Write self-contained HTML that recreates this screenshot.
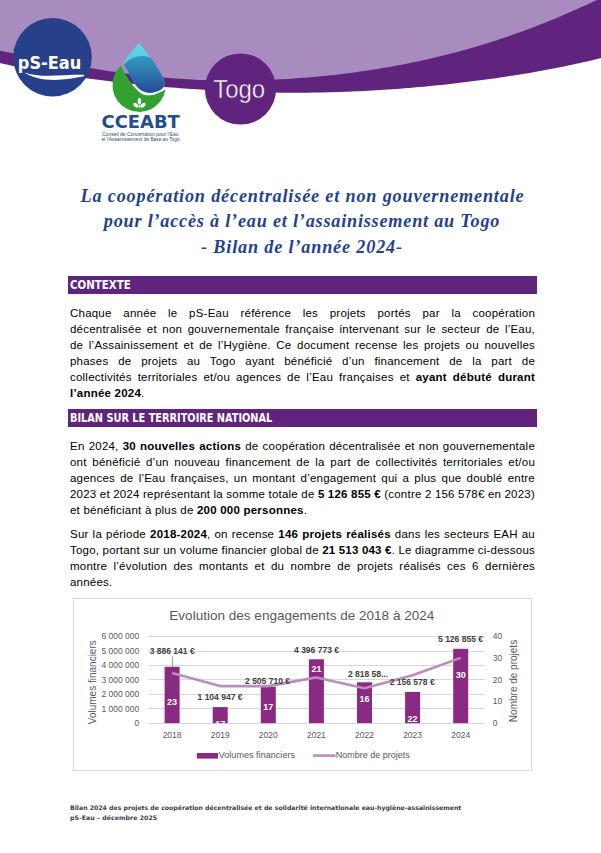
<!DOCTYPE html>
<html lang="fr"><head><meta charset="utf-8"><title>Bilan 2024 Togo</title>
<style>
*{margin:0;padding:0;box-sizing:border-box}
html,body{width:601px;height:853px;overflow:hidden;background:#fff}
body{position:relative;font-family:"Liberation Sans",sans-serif;color:#1a1a1a}
.abs{position:absolute}
svg.bg{position:absolute;left:0;top:0}
.title{position:absolute;left:2.5px;width:601px;text-align:center;font:italic bold 18.2px/25px "Liberation Serif",serif;color:#1f4292;letter-spacing:.79px;white-space:nowrap}
.bar{position:absolute;left:68px;width:469px;height:18px;background:#60247f;color:#fff;font:bold 12px/18px "DejaVu Sans Condensed","DejaVu Sans",sans-serif;padding-left:2px}
.bar span{display:inline-block;transform:scaleX(.905);transform-origin:0 0;white-space:nowrap}
.para{position:absolute;left:70px;width:465px;font-size:11.5px;line-height:16px;letter-spacing:.22px;color:#000}
.para div{text-align:justify;text-align-last:justify;white-space:nowrap}
.para div.l{text-align-last:left}
.foot{position:absolute;left:70px;font-family:"DejaVu Sans",sans-serif;font-size:6.2px;line-height:10px;color:#3c3c4a;letter-spacing:0;font-weight:bold;white-space:nowrap}
</style></head><body>
<svg class="bg" width="601" height="853" viewBox="0 0 601 853">
<defs>
<linearGradient id="dg" x1="0" y1="0" x2="0" y2="1">
<stop offset="0" stop-color="#66d9e3"/><stop offset=".4" stop-color="#55cbdd"/><stop offset="1" stop-color="#3a9cc6"/>
</linearGradient>
<linearGradient id="dg2" x1="0" y1="0" x2="0" y2="1">
<stop offset="0" stop-color="#3199c2"/><stop offset=".45" stop-color="#2b70aa"/><stop offset="1" stop-color="#243088"/>
</linearGradient>
</defs>
<polygon fill="#60247f" points="0,0 0,62.96 4,63.88 8,64.77 12,65.64 16,66.48 20,67.31 24,68.11 28,68.89 32,69.64 36,70.38 40,71.10 44,71.81 48,72.49 52,73.16 56,73.82 60,74.45 64,75.08 68,75.69 72,76.28 76,76.86 80,77.43 84,77.99 88,78.54 92,79.07 96,79.59 100,80.10 104,80.60 108,81.09 112,81.57 116,82.03 120,82.49 124,82.94 128,83.38 132,83.80 136,84.22 140,84.63 144,85.03 148,85.42 152,85.80 156,86.17 160,86.53 164,86.88 168,87.22 172,87.55 176,87.87 180,88.18 184,88.48 188,88.78 192,89.06 196,89.33 200,89.60 204,89.85 208,90.09 212,90.32 216,90.55 220,90.76 224,90.96 228,91.15 232,91.33 236,91.50 240,91.66 244,91.81 248,91.95 252,92.07 256,92.19 260,92.29 264,92.39 268,92.47 272,92.54 276,92.60 280,92.65 284,92.68 288,92.71 292,92.72 296,92.73 300,92.72 304,92.69 308,92.66 312,92.62 316,92.56 320,92.49 324,92.41 328,92.32 332,92.22 336,92.10 340,91.97 344,91.83 348,91.68 352,91.52 356,91.35 360,91.16 364,90.96 368,90.76 372,90.53 376,90.30 380,90.06 384,89.80 388,89.54 392,89.26 396,88.97 400,88.67 404,88.36 408,88.04 412,87.70 416,87.36 420,87.00 424,86.63 428,86.26 432,85.87 436,85.47 440,85.05 444,84.63 448,84.20 452,83.75 456,83.30 460,82.83 464,82.36 468,81.87 472,81.37 476,80.86 480,80.33 484,79.80 488,79.25 492,78.70 496,78.13 500,77.55 504,76.96 508,76.35 512,75.73 516,75.10 520,74.46 524,73.80 528,73.13 532,72.45 536,71.75 540,71.03 544,70.30 548,69.56 552,68.80 556,68.02 560,67.23 564,66.41 568,65.58 572,64.73 576,63.86 580,62.97 584,62.06 588,61.13 592,60.17 596,59.19 600,58.19 604,57.16 601,0"/>
<polygon fill="#a88cbf" points="0,0 0,50.80 4,51.55 8,52.30 12,53.07 16,53.85 20,54.64 24,55.43 28,56.22 32,57.02 36,57.82 40,58.61 44,59.41 48,60.20 52,60.98 56,61.76 60,62.53 64,63.30 68,64.05 72,64.79 76,65.53 80,66.25 84,66.95 88,67.65 92,68.33 96,68.99 100,69.64 104,70.27 108,70.89 112,71.49 116,72.07 120,72.64 124,73.18 128,73.71 132,74.22 136,74.71 140,75.18 144,75.63 148,76.06 152,76.48 156,76.87 160,77.24 164,77.60 168,77.93 172,78.24 176,78.54 180,78.81 184,79.06 188,79.30 192,79.51 196,79.70 200,79.88 204,80.03 208,80.17 212,80.28 216,80.38 220,80.46 224,80.51 228,80.55 232,80.57 236,80.57 240,80.55 244,80.52 248,80.46 252,80.39 256,80.29 260,80.18 264,80.05 268,79.91 272,79.74 276,79.56 280,79.36 284,79.14 288,78.90 292,78.65 296,78.37 300,78.08 304,77.78 308,77.45 312,77.11 316,76.75 320,76.37 324,75.97 328,75.56 332,75.13 336,74.68 340,74.21 344,73.72 348,73.22 352,72.70 356,72.15 360,71.60 364,71.02 368,70.42 372,69.81 376,69.17 380,68.52 384,67.85 388,67.16 392,66.45 396,65.71 400,64.96 404,64.19 408,63.40 412,62.59 416,61.76 420,60.90 424,60.03 428,59.13 432,58.21 436,57.27 440,56.31 444,55.33 448,54.32 452,53.29 456,52.24 460,51.16 464,50.06 468,48.94 472,47.80 476,46.63 480,45.43 484,44.22 488,42.97 492,41.71 496,40.42 500,39.10 504,37.76 508,36.40 512,35.01 516,33.60 520,32.16 524,30.70 528,29.22 532,27.71 536,26.17 540,24.61 544,23.03 548,21.43 552,19.80 556,18.14 560,16.47 564,14.77 568,13.05 572,11.32 576,9.55 580,7.77 584,5.97 588,4.16 592,2.32 596,0.46 600,-1.41 604,-3.29 601,0"/>
<!-- pS-Eau -->
<circle cx="52.5" cy="57.2" r="39.3" fill="#274089"/>
<text x="17.8" y="69.3" font-family="DejaVu Sans" font-weight="bold" font-size="17.8" fill="#fff" textLength="63.5" lengthAdjust="spacingAndGlyphs">pS-Eau</text>
<path d="M24.3,72.4 C32,75 40,75.8 50,75.7 C60,75.5 72,74.7 84,74.8 L84,76.3 C75,78.1 65,79.7 54,79.9 C42,79.9 32,77.2 24.3,72.4 Z" fill="#fff"/>
<!-- drop -->
<path d="M120.8,65.8 A26.7,26.7 0 1 0 165.5,89.6 C161,92 156,94.8 151,95.2 C148,95.5 146,95.4 144,94.8 C142,94.1 140.5,93.1 138.6,91.5 C136.6,89.8 135,88 133.4,86 C131.8,84 130.6,82 129,79.8 C127.5,77.5 126.1,75.3 124.7,72.9 C123.3,70.5 122,68.2 120.8,65.8 Z" fill="#31a231"/>
<clipPath id="dc"><path id="dp" d="M139.2,43 C142,46.5 146,51.5 149.1,55.6 C153,61 157,66.5 159.5,71.1 C162,75.5 164.5,79.5 164.7,82.4 C165,86 163,88.2 161.3,89.3 C158,91.5 154,92.8 150,92.8 C146,92.8 141.5,90.8 138.8,88.4 C136,86 133,81.5 131,77.2 C129,73 126.5,68 123.2,63.8 C125,60.5 126,58.5 128.4,55.6 C131,52 135,47.5 139.2,43 Z"/></clipPath>
<g clip-path="url(#dc)">
<rect x="118" y="40" width="52" height="56" fill="url(#dg)"/>
<circle cx="142" cy="79" r="23" fill="url(#dg2)"/>
</g>
<g fill="#fff">
<ellipse cx="139.4" cy="101.2" rx="1.7" ry="3.1"/>
<ellipse cx="135.9" cy="105.2" rx="3.1" ry="1.8" transform="rotate(35 135.9 105.2)"/>
<ellipse cx="142.9" cy="105.2" rx="3.1" ry="1.8" transform="rotate(-35 142.9 105.2)"/>
<rect x="139" y="104.5" width="0.8" height="3.6"/>
</g>
<text x="101.6" y="128" font-family="DejaVu Sans" font-weight="bold" font-size="17.4" fill="#224d8e" textLength="78.2" lengthAdjust="spacingAndGlyphs">CCEABT</text>
<text x="102.2" y="135.8" font-family="Liberation Sans" font-size="4.7" fill="#33466f" textLength="76.3" lengthAdjust="spacingAndGlyphs">Conseil de Concertation pour l’Eau</text>
<text x="101.4" y="141.2" font-family="Liberation Sans" font-size="4.7" fill="#33466f" textLength="78.2" lengthAdjust="spacingAndGlyphs">et l’Assainissement de Base au Togo</text>
<!-- Togo -->
<circle cx="240.5" cy="89" r="35.6" fill="#60247f"/>
<text x="213.2" y="97.9" font-family="Liberation Sans" font-size="25.5" fill="#fff" stroke="#60247f" stroke-width="0.45" textLength="52" lengthAdjust="spacingAndGlyphs">Togo</text>
<!-- chart -->
<rect x="73.5" y="598.5" width="458" height="172" fill="#fff" stroke="#d9d9d9" stroke-width="1"/>
<text x="169.3" y="620.3" font-family="Liberation Sans" font-size="13.6" fill="#595959" textLength="265" lengthAdjust="spacingAndGlyphs">Evolution des engagements de 2018 à 2024</text>
<g stroke="#d9d9d9" stroke-width="1"><line x1="148" x2="485" y1="636.5" y2="636.5"/><line x1="148" x2="485" y1="651.5" y2="651.5"/><line x1="148" x2="485" y1="665.5" y2="665.5"/><line x1="148" x2="485" y1="679.5" y2="679.5"/><line x1="148" x2="485" y1="694.5" y2="694.5"/><line x1="148" x2="485" y1="708.5" y2="708.5"/><line x1="148" x2="485" y1="723.5" y2="723.5"/></g>
<g font-family="Liberation Sans" font-size="8.5" fill="#595959" text-anchor="end">
<text x="139.3" y="639.2">6 000 000</text><text x="139.3" y="653.7">5 000 000</text><text x="139.3" y="668.2">4 000 000</text><text x="139.3" y="682.7">3 000 000</text><text x="139.3" y="697.2">2 000 000</text><text x="139.3" y="711.7">1 000 000</text><text x="139.3" y="726.2">0</text>
</g>
<g font-family="Liberation Sans" font-size="8.5" fill="#595959" text-anchor="start">
<text x="492.8" y="639.2">40</text><text x="492.8" y="660.95">30</text><text x="492.8" y="682.7">20</text><text x="492.8" y="704.45">10</text><text x="492.8" y="726.2">0</text>
</g>
<text transform="translate(96.2 682.2) rotate(-90)" text-anchor="middle" font-family="Liberation Sans" font-size="10" fill="#595959">Volumes financiers</text>
<text transform="translate(516.8 681) rotate(-90)" text-anchor="middle" font-family="Liberation Sans" font-size="10" fill="#595959">Nombre de projets</text>
<g fill="#8b2a82">
<rect x="164.6" y="666.8" width="15" height="56.4"/>
<rect x="212.7" y="707.1" width="15" height="16.1"/>
<rect x="260.8" y="686.8" width="15" height="36.4"/>
<rect x="308.9" y="659.3" width="15" height="63.9"/>
<rect x="357" y="682.3" width="15" height="40.9"/>
<rect x="405.1" y="691.9" width="15" height="31.3"/>
<rect x="453.2" y="648.8" width="15" height="74.4"/>
</g>
<line x1="172.6" y1="656.5" x2="172.6" y2="666.8" stroke="#7a7a7a" stroke-width="0.8"/>
<polyline fill="none" stroke="#bc8cbd" stroke-width="2.6" stroke-linejoin="round" points="172.1,673.1 220.2,686.1 268.3,686.1 316.4,677.4 364.5,688.3 412.6,675.2 460.7,657.9"/>
<g font-family="Liberation Sans" font-weight="bold" font-size="8.5" fill="#404040" text-anchor="middle">
<text x="172.2" y="654">3 886 141 €</text>
<text x="220" y="700">1 104 947 €</text>
<text x="267.5" y="684">2 505 710 €</text>
<text x="316.5" y="653">4 396 773 €</text>
<text x="368" y="677">2 818 58...</text>
<text x="412.2" y="685">2 156 578 €</text>
<text x="460.5" y="641.8">5 126 855 €</text>
</g>
<g font-family="Liberation Sans" font-weight="bold" font-size="9" fill="#fff" text-anchor="middle">
<text x="172.1" y="705.3">23</text>
<text x="220.2" y="727.3">17</text>
<text x="268.3" y="709.8">17</text>
<text x="316.4" y="672.3">21</text>
<text x="364.5" y="702">16</text>
<text x="412.6" y="722">22</text>
<text x="460.7" y="678.4">30</text>
</g>
<rect x="148" y="723.9" width="337" height="8" fill="#fff"/>
<g font-family="Liberation Sans" font-size="8.5" fill="#595959" text-anchor="middle">
<text x="172.1" y="738">2018</text><text x="220.2" y="738">2019</text><text x="268.3" y="738">2020</text><text x="316.4" y="738">2021</text><text x="364.5" y="738">2022</text><text x="412.6" y="738">2023</text><text x="460.7" y="738">2024</text>
</g>
<rect x="196.8" y="753" width="21.2" height="5.6" fill="#8b2a82"/>
<text x="218.7" y="758.3" font-family="Liberation Sans" font-size="9.1" fill="#595959">Volumes financiers</text>
<line x1="313" x2="335.5" y1="755.6" y2="755.6" stroke="#bc8cbd" stroke-width="2.6"/>
<text x="335.8" y="758.3" font-family="Liberation Sans" font-size="9" fill="#595959">Nombre de projets</text>
</svg>

<div class="title" style="top:184.3px;letter-spacing:.83px;left:2px">La coopération décentralisée et non gouvernementale</div>
<div class="title" style="top:208.9px;left:1.5px">pour l’accès à l’eau et l’assainissement au Togo</div>
<div class="title" style="top:235.2px;letter-spacing:.83px;left:1.5px">- Bilan de l’année 2024-</div>

<div class="bar" style="top:276px"><span style="transform:scaleX(.95)">CONTEXTE</span></div>
<div class="para" style="top:305px">
<div>Chaque année le pS-Eau référence les projets portés par la coopération</div>
<div>décentralisée et non gouvernementale française intervenant sur le secteur de l’Eau,</div>
<div>de l’Assainissement et de l’Hygiène. Ce document recense les projets ou nouvelles</div>
<div>phases de projets au Togo ayant bénéficié d’un financement de la part de</div>
<div>collectivités territoriales et/ou agences de l’Eau françaises et <b>ayant débuté durant</b></div>
<div class="l"><b>l’année 2024</b>.</div>
</div>

<div class="bar" style="top:409px"><span>BILAN SUR LE TERRITOIRE NATIONAL</span></div>
<div class="para" style="top:438px">
<div>En 2024, <b>30 nouvelles actions</b> de coopération décentralisée et non gouvernementale</div>
<div>ont bénéficié d’un nouveau financement de la part de collectivités territoriales et/ou</div>
<div>agences de l’Eau françaises, un montant d’engagement qui a plus que doublé entre</div>
<div style="word-spacing:-.2px">2023 et 2024 représentant la somme totale de <b>5 126 855 €</b> (contre 2 156 578€ en 2023)</div>
<div class="l">et bénéficiant à plus de <b>200 000 personnes</b>.</div>
</div>
<div class="para" style="top:526px">
<div>Sur la période <b>2018-2024</b>, on recense <b>146 projets réalisés</b> dans les secteurs EAH au</div>
<div style="word-spacing:-.25px">Togo, portant sur un volume financier global de <b>21 513 043 €</b>. Le diagramme ci-dessous</div>
<div>montre l’évolution des montants et du nombre de projets réalisés ces 6 dernières</div>
<div class="l">années.</div>
</div>

<div class="foot" style="top:802.5px">Bilan 2024 des projets de coopération décentralisée et de solidarité internationale eau-hygiène-assainissement</div>
<div class="foot" style="top:812.5px;letter-spacing:.07px">pS-Eau – décembre 2025</div>
</body></html>
